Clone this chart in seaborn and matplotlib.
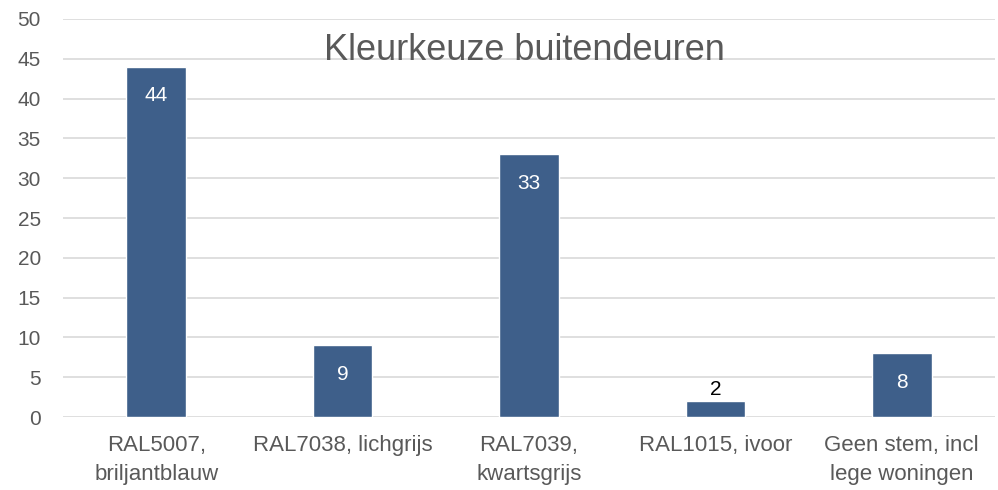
import pandas as pd
import seaborn as sns
import matplotlib.pyplot as plt

categories = ["RAL5007,\nbriljantblauw", "RAL7038, lichgrijs", "RAL7039,\nkwartsgrijs",
              "RAL1015, ivoor", "Geen stem, incl\nlege woningen"]
votes = [44, 9, 33, 2, 8]
title = "Kleurkeuze buitendeuren"

df = pd.DataFrame({"kleur": categories, "stemmen": votes})

sns.set_theme(style="white")
plt.rcParams["font.family"] = ["Liberation Sans", "DejaVu Sans"]

fig = plt.figure(figsize=(9.98, 4.90), dpi=100)
ax = fig.add_axes([63 / 998, 73 / 490, 932 / 998, 398 / 490])

sns.barplot(data=df, x="kleur", y="stemmen", color="#3E5F8A", saturation=1,
            width=0.32, ax=ax, zorder=3)

ax.set_ylim(0, 50)
ax.set_yticks(range(0, 51, 5))
ax.set_xlim(-0.5, len(categories) - 0.5)
ax.grid(axis="y", color="#D9D9D9", linewidth=1.2, zorder=0)
ax.set_axisbelow(True)
for s in ax.spines.values():
    s.set_visible(False)
ax.set_xlabel("")
ax.set_ylabel("")
ax.tick_params(axis="y", length=0, labelsize=15, labelcolor="#595959", pad=16)
ax.tick_params(axis="x", length=0, labelsize=16, labelcolor="#595959", pad=13)
for lbl in ax.get_xticklabels():
    lbl.set_linespacing(1.5)

for bar, v in zip(ax.patches, votes):
    x = bar.get_x() + bar.get_width() / 2
    if v >= 5:
        ax.annotate(str(v), (x, v), xytext=(0, -21), textcoords="offset points",
                    ha="center", va="center", color="white", fontsize=15)
    else:
        ax.annotate(str(v), (x, v), xytext=(0, 8), textcoords="offset points",
                    ha="center", va="center", color="black", fontsize=15)

ax.text(0.495, 0.92, title, transform=ax.transAxes, ha="center", va="center",
        fontsize=26, color="#595959")

fig.savefig("out.png", dpi=100)
